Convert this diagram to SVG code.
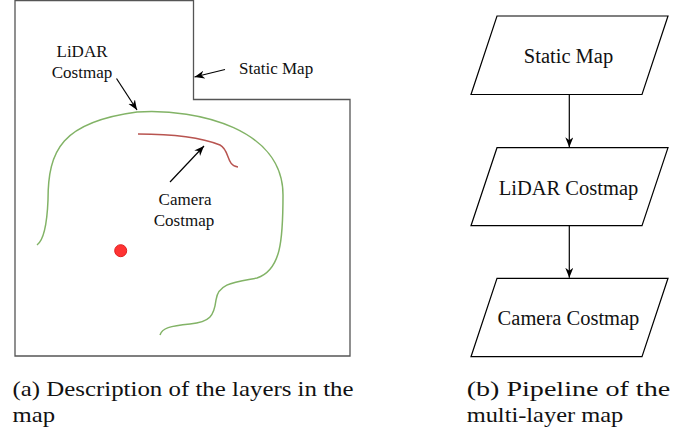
<svg xmlns="http://www.w3.org/2000/svg" width="696" height="431" viewBox="0 0 696 431">
<style>
text{font-family:'Liberation Serif',Tinos,'Nimbus Roman','Times New Roman',serif;fill:#111}
.lbl{font-size:17px}
.fc{font-size:20.5px;text-anchor:middle}
.cap{font-size:22px}
.box{fill:#fff;stroke:#000;stroke-width:1.2}
.edge{fill:none;stroke:#000;stroke-width:1.2}
</style>
<defs>
<marker id="arr" markerUnits="userSpaceOnUse" markerWidth="12" markerHeight="10" refX="10" refY="4" orient="auto">
<path d="M0,0 L10,4 L0,8 L3,4 Z" fill="#000"/>
</marker>
</defs>
<g id="map-outline">
<path d="M15,0.5 L193.5,0.5 L193.5,99.5 L350,99.5 L350,356 L15,356 Z" fill="#fff" stroke="#555" stroke-width="1.3"/>
</g>
<g id="lidar-layer">
<path d="M37,245 C44,240 47,225 48,200 C48,150 62,122 137,112 C200,108 283,130 283,195 C283,240 281,270 257,278 C235,282 218,283 216,300 C214,316 210,322 190,324 C170,326 162,328 160,335" fill="none" stroke="#82b366" stroke-width="1.5"/>
</g>
<g id="camera-layer">
<path d="M138,134 C170,134 200,137 220,145 C230,150 226,166 238,167" fill="none" stroke="#b85450" stroke-width="1.5"/>
</g>
<g id="robot">
<circle cx="120.7" cy="250.7" r="6" fill="#ff3333" stroke="#e02020" stroke-width="1"/>
</g>
<g id="label-static">
<text class="lbl" x="239" y="74" font-family="'Liberation Serif', serif">Static Map</text>
</g>
<g id="label-lidar">
<text class="lbl" x="82" y="57" text-anchor="middle" font-family="'Liberation Serif', serif">LiDAR</text>
<text class="lbl" x="82" y="78" text-anchor="middle" font-family="'Liberation Serif', serif">Costmap</text>
</g>
<g id="label-camera">
<text class="lbl" x="185" y="205" text-anchor="middle" font-family="'Liberation Serif', serif">Camera</text>
<text class="lbl" x="184" y="226" text-anchor="middle" font-family="'Liberation Serif', serif">Costmap</text>
</g>
<g id="fc-static">
<path class="box" d="M497,16 L668,16 L642,94.5 L471,94.5 Z"/>
<text class="fc" x="568.5" y="63" font-family="'Liberation Serif', serif">Static Map</text>
</g>
<g id="fc-lidar">
<path class="box" d="M497,147.7 L668,147.7 L642,225.7 L471,225.7 Z"/>
<text class="fc" x="568.5" y="195" font-family="'Liberation Serif', serif">LiDAR Costmap</text>
</g>
<g id="fc-camera">
<path class="box" d="M497,278.3 L668,278.3 L642,356.7 L471,356.7 Z"/>
<text class="fc" x="568.5" y="325" font-family="'Liberation Serif', serif">Camera Costmap</text>
</g>
<g id="connectors">
<path class="edge" d="M225,69.5 L194.5,77" marker-end="url(#arr)"/>
<path class="edge" d="M116.5,78.5 L137,110" marker-end="url(#arr)"/>
<path class="edge" d="M170,182 L204,146" marker-end="url(#arr)"/>
<path class="edge" d="M569.3,94.5 L569.3,147.2" marker-end="url(#arr)"/>
<path class="edge" d="M569.3,225.7 L569.3,277.8" marker-end="url(#arr)"/>
</g>
<g id="captions" font-family="'Liberation Serif', serif">
<text class="cap" x="12.5" y="395.5" textLength="341" lengthAdjust="spacingAndGlyphs">(a) Description of the layers in the</text>
<text class="cap" x="12.5" y="421.5" textLength="42.5" lengthAdjust="spacingAndGlyphs">map</text>
<text class="cap" x="466.7" y="395.5" textLength="203.5" lengthAdjust="spacingAndGlyphs">(b) Pipeline of the</text>
<text class="cap" x="466.7" y="421.5" textLength="156.5" lengthAdjust="spacingAndGlyphs">multi-layer map</text>
</g>
</svg>
